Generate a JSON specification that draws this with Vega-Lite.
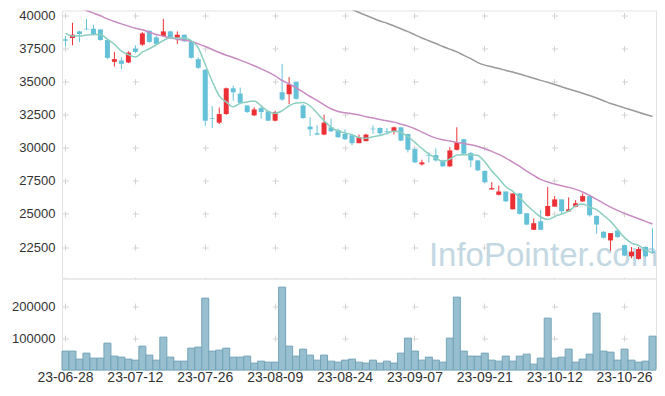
{
  "$schema": "https://vega.github.io/schema/vega-lite/v6.json",
  "padding": {"left": 11, "top": 8.5, "right": 9, "bottom": 5},
  "background": "white",
  "config": {
    "view": {"stroke": "#e3e3e3", "strokeWidth": 1},
    "font": "Liberation Sans",
    "axis": {"labelFont": "Liberation Sans", "labelColor": "#333333", "gridColor": "#d4d4d4", "gridWidth": 1, "labelOverlap": false}
  },
  "data": {"values": [
    {"date": "23-06-28", "open": 38200, "high": 38450, "low": 37700, "close": 38100, "volume": 59300, "ma5": 38650, "ma20": 40900},
    {"date": "23-06-29", "open": 38300, "high": 39450, "low": 37750, "close": 38550, "volume": 59300, "ma5": 38450, "ma20": 40750},
    {"date": "23-06-30", "open": 38800, "high": 38850, "low": 38000, "close": 38600, "volume": 34300, "ma5": 38450, "ma20": 40580},
    {"date": "23-07-03", "open": 39000, "high": 39750, "low": 38900, "close": 38950, "volume": 53000, "ma5": 38520, "ma20": 40380},
    {"date": "23-07-04", "open": 39000, "high": 39300, "low": 38500, "close": 38550, "volume": 37400, "ma5": 38560, "ma20": 40180},
    {"date": "23-07-05", "open": 38950, "high": 38950, "low": 38100, "close": 38150, "volume": 37400, "ma5": 38560, "ma20": 39980},
    {"date": "23-07-06", "open": 38150, "high": 38250, "low": 36700, "close": 36800, "volume": 84300, "ma5": 38210, "ma20": 39750},
    {"date": "23-07-07", "open": 36500, "high": 37250, "low": 36150, "close": 36700, "volume": 43700, "ma5": 37830, "ma20": 39550},
    {"date": "23-07-10", "open": 36600, "high": 36850, "low": 35950, "close": 36350, "volume": 40500, "ma5": 37310, "ma20": 39370},
    {"date": "23-07-11", "open": 36450, "high": 37300, "low": 36400, "close": 37200, "volume": 34300, "ma5": 37040, "ma20": 39200},
    {"date": "23-07-12", "open": 37500, "high": 37750, "low": 37150, "close": 37250, "volume": 31100, "ma5": 36860, "ma20": 39040},
    {"date": "23-07-13", "open": 37800, "high": 38750, "low": 37700, "close": 38650, "volume": 74900, "ma5": 37230, "ma20": 38920},
    {"date": "23-07-14", "open": 38850, "high": 38850, "low": 37950, "close": 38000, "volume": 46800, "ma5": 37490, "ma20": 38740},
    {"date": "23-07-17", "open": 38350, "high": 38500, "low": 37800, "close": 37850, "volume": 31100, "ma5": 37790, "ma20": 38570},
    {"date": "23-07-18", "open": 38450, "high": 39750, "low": 38400, "close": 38800, "volume": 103000, "ma5": 38110, "ma20": 38440},
    {"date": "23-07-19", "open": 38800, "high": 38850, "low": 38250, "close": 38300, "volume": 40500, "ma5": 38320, "ma20": 38310},
    {"date": "23-07-20", "open": 38300, "high": 38800, "low": 37850, "close": 38550, "volume": 28000, "ma5": 38300, "ma20": 38210},
    {"date": "23-07-21", "open": 38550, "high": 38550, "low": 38000, "close": 38050, "volume": 28000, "ma5": 38310, "ma20": 38140},
    {"date": "23-07-24", "open": 38050, "high": 38150, "low": 36750, "close": 36800, "volume": 68600, "ma5": 38100, "ma20": 38040},
    {"date": "23-07-25", "open": 36700, "high": 36850, "low": 35950, "close": 36050, "volume": 71800, "ma5": 37550, "ma20": 37860},
    {"date": "23-07-26", "open": 35900, "high": 35950, "low": 31650, "close": 32050, "volume": 224900, "ma5": 36300, "ma20": 37660},
    {"date": "23-07-27", "open": 32250, "high": 33150, "low": 31500, "close": 32200, "volume": 59300, "ma5": 35030, "ma20": 37430},
    {"date": "23-07-28", "open": 31900, "high": 33050, "low": 31800, "close": 32550, "volume": 62400, "ma5": 33930, "ma20": 37200},
    {"date": "23-07-31", "open": 32550, "high": 34550, "low": 32500, "close": 34500, "volume": 68600, "ma5": 33470, "ma20": 37000},
    {"date": "23-08-01", "open": 34500, "high": 34700, "low": 33550, "close": 34200, "volume": 40500, "ma5": 33100, "ma20": 36830},
    {"date": "23-08-02", "open": 34100, "high": 34550, "low": 33300, "close": 33400, "volume": 40500, "ma5": 33370, "ma20": 36630},
    {"date": "23-08-03", "open": 33200, "high": 33200, "low": 32650, "close": 32700, "volume": 43700, "ma5": 33470, "ma20": 36420},
    {"date": "23-08-04", "open": 32450, "high": 33050, "low": 32400, "close": 32900, "volume": 21800, "ma5": 33540, "ma20": 36200},
    {"date": "23-08-07", "open": 33000, "high": 33200, "low": 32200, "close": 32700, "volume": 28000, "ma5": 33180, "ma20": 35970},
    {"date": "23-08-08", "open": 32750, "high": 32800, "low": 32050, "close": 32050, "volume": 24900, "ma5": 32750, "ma20": 35720},
    {"date": "23-08-09", "open": 32050, "high": 32800, "low": 32000, "close": 32700, "volume": 24900, "ma5": 32610, "ma20": 35440},
    {"date": "23-08-10", "open": 34200, "high": 36350, "low": 33550, "close": 33650, "volume": 259300, "ma5": 32800, "ma20": 35090},
    {"date": "23-08-11", "open": 34050, "high": 35350, "low": 33300, "close": 34800, "volume": 74900, "ma5": 33180, "ma20": 34840},
    {"date": "23-08-14", "open": 35000, "high": 35000, "low": 33650, "close": 33700, "volume": 43700, "ma5": 33380, "ma20": 34540},
    {"date": "23-08-16", "open": 33200, "high": 33300, "low": 32200, "close": 32250, "volume": 65500, "ma5": 33420, "ma20": 34210},
    {"date": "23-08-17", "open": 31600, "high": 32300, "low": 30900, "close": 31400, "volume": 46800, "ma5": 33160, "ma20": 33880},
    {"date": "23-08-18", "open": 31100, "high": 31700, "low": 30950, "close": 31000, "volume": 31100, "ma5": 32630, "ma20": 33580},
    {"date": "23-08-21", "open": 31000, "high": 32500, "low": 30950, "close": 31900, "volume": 46800, "ma5": 32050, "ma20": 33250},
    {"date": "23-08-22", "open": 31550, "high": 32200, "low": 31200, "close": 31250, "volume": 28000, "ma5": 31560, "ma20": 32950},
    {"date": "23-08-23", "open": 31350, "high": 31450, "low": 30750, "close": 30800, "volume": 24900, "ma5": 31270, "ma20": 32750},
    {"date": "23-08-24", "open": 31050, "high": 31400, "low": 30600, "close": 30650, "volume": 31100, "ma5": 31120, "ma20": 32650},
    {"date": "23-08-25", "open": 30950, "high": 31050, "low": 30200, "close": 30350, "volume": 34300, "ma5": 30990, "ma20": 32570, "ma60": 40450},
    {"date": "23-08-28", "open": 30350, "high": 31000, "low": 30350, "close": 30800, "volume": 24900, "ma5": 30770, "ma20": 32480, "ma60": 40230},
    {"date": "23-08-29", "open": 30500, "high": 31050, "low": 30500, "close": 31000, "volume": 21800, "ma5": 30720, "ma20": 32350, "ma60": 40010},
    {"date": "23-08-30", "open": 31450, "high": 31700, "low": 31050, "close": 31400, "volume": 31100, "ma5": 30840, "ma20": 32250, "ma60": 39790},
    {"date": "23-08-31", "open": 31500, "high": 31550, "low": 30950, "close": 31100, "volume": 21800, "ma5": 30930, "ma20": 32140, "ma60": 39580},
    {"date": "23-09-01", "open": 31250, "high": 31500, "low": 31000, "close": 31200, "volume": 28000, "ma5": 31100, "ma20": 32040, "ma60": 39420},
    {"date": "23-09-04", "open": 31200, "high": 31600, "low": 31000, "close": 31550, "volume": 21800, "ma5": 31250, "ma20": 31940, "ma60": 39210},
    {"date": "23-09-05", "open": 31550, "high": 31550, "low": 30500, "close": 30550, "volume": 53000, "ma5": 31160, "ma20": 31790, "ma60": 39000},
    {"date": "23-09-06", "open": 31050, "high": 31050, "low": 29650, "close": 29850, "volume": 99900, "ma5": 30850, "ma20": 31640, "ma60": 38780},
    {"date": "23-09-07", "open": 29900, "high": 29950, "low": 28850, "close": 28900, "volume": 59300, "ma5": 30410, "ma20": 31440, "ma60": 38540},
    {"date": "23-09-08", "open": 28750, "high": 29100, "low": 28650, "close": 28900, "volume": 31100, "ma5": 29950, "ma20": 31190, "ma60": 38300},
    {"date": "23-09-11", "open": 29450, "high": 29650, "low": 28900, "close": 29400, "volume": 40500, "ma5": 29520, "ma20": 30940, "ma60": 38090},
    {"date": "23-09-12", "open": 29450, "high": 29950, "low": 28950, "close": 29050, "volume": 31100, "ma5": 29220, "ma20": 30730, "ma60": 37880},
    {"date": "23-09-13", "open": 29050, "high": 29100, "low": 28550, "close": 28600, "volume": 24900, "ma5": 28970, "ma20": 30610, "ma60": 37660},
    {"date": "23-09-14", "open": 28600, "high": 30050, "low": 28550, "close": 29800, "volume": 99900, "ma5": 29150, "ma20": 30510, "ma60": 37460},
    {"date": "23-09-15", "open": 29850, "high": 31550, "low": 29800, "close": 30400, "volume": 228000, "ma5": 29450, "ma20": 30410, "ma60": 37250},
    {"date": "23-09-18", "open": 30650, "high": 30650, "low": 29500, "close": 29550, "volume": 59300, "ma5": 29480, "ma20": 30330, "ma60": 36990},
    {"date": "23-09-19", "open": 29600, "high": 29700, "low": 28550, "close": 29050, "volume": 43700, "ma5": 29480, "ma20": 30230, "ma60": 36740},
    {"date": "23-09-20", "open": 29050, "high": 29050, "low": 28250, "close": 28300, "volume": 43700, "ma5": 29420, "ma20": 30100, "ma60": 36440},
    {"date": "23-09-21", "open": 28250, "high": 28300, "low": 27350, "close": 27400, "volume": 53000, "ma5": 28940, "ma20": 29930, "ma60": 36250},
    {"date": "23-09-22", "open": 26850, "high": 27400, "low": 26850, "close": 26950, "volume": 31100, "ma5": 28250, "ma20": 29730, "ma60": 36120},
    {"date": "23-09-25", "open": 26450, "high": 27150, "low": 26400, "close": 26700, "volume": 28000, "ma5": 27680, "ma20": 29500, "ma60": 35990},
    {"date": "23-09-26", "open": 26700, "high": 26700, "low": 25900, "close": 25950, "volume": 43700, "ma5": 27060, "ma20": 29220, "ma60": 35850},
    {"date": "23-09-27", "open": 25350, "high": 26550, "low": 25350, "close": 26550, "volume": 28000, "ma5": 26710, "ma20": 28920, "ma60": 35730},
    {"date": "23-10-04", "open": 26550, "high": 26550, "low": 24950, "close": 25000, "volume": 43700, "ma5": 26230, "ma20": 28590, "ma60": 35580},
    {"date": "23-10-05", "open": 25050, "high": 25050, "low": 24150, "close": 24200, "volume": 49900, "ma5": 25680, "ma20": 28240, "ma60": 35420},
    {"date": "23-10-06", "open": 23800, "high": 24650, "low": 23800, "close": 24300, "volume": 18600, "ma5": 25200, "ma20": 27910, "ma60": 35260},
    {"date": "23-10-10", "open": 24450, "high": 25300, "low": 23800, "close": 23800, "volume": 37400, "ma5": 24770, "ma20": 27610, "ma60": 35100},
    {"date": "23-10-11", "open": 24850, "high": 27050, "low": 24800, "close": 25600, "volume": 162400, "ma5": 24580, "ma20": 27410, "ma60": 34950},
    {"date": "23-10-12", "open": 25550, "high": 26350, "low": 25550, "close": 26100, "volume": 37400, "ma5": 24800, "ma20": 27260, "ma60": 34790},
    {"date": "23-10-13", "open": 26100, "high": 26100, "low": 25000, "close": 25200, "volume": 40500, "ma5": 25000, "ma20": 27130, "ma60": 34620},
    {"date": "23-10-16", "open": 25200, "high": 26250, "low": 25150, "close": 25350, "volume": 65500, "ma5": 25210, "ma20": 27010, "ma60": 34440},
    {"date": "23-10-17", "open": 25550, "high": 26050, "low": 25500, "close": 25800, "volume": 24900, "ma5": 25610, "ma20": 26860, "ma60": 34290},
    {"date": "23-10-18", "open": 25950, "high": 26550, "low": 25900, "close": 26350, "volume": 34300, "ma5": 25760, "ma20": 26660, "ma60": 34130},
    {"date": "23-10-19", "open": 26350, "high": 26400, "low": 24800, "close": 24900, "volume": 49900, "ma5": 25520, "ma20": 26400, "ma60": 33950},
    {"date": "23-10-20", "open": 24850, "high": 24900, "low": 23500, "close": 24200, "volume": 178000, "ma5": 25320, "ma20": 26100, "ma60": 33760},
    {"date": "23-10-23", "open": 23650, "high": 23700, "low": 23150, "close": 23200, "volume": 59300, "ma5": 24890, "ma20": 25800, "ma60": 33560},
    {"date": "23-10-24", "open": 23000, "high": 23550, "low": 22200, "close": 23550, "volume": 56100, "ma5": 24440, "ma20": 25520, "ma60": 33350},
    {"date": "23-10-25", "open": 23750, "high": 23850, "low": 23200, "close": 23250, "volume": 31100, "ma5": 23820, "ma20": 25270, "ma60": 33190},
    {"date": "23-10-26", "open": 22650, "high": 22650, "low": 21800, "close": 21850, "volume": 65500, "ma5": 23210, "ma20": 25040, "ma60": 33020},
    {"date": "23-10-27", "open": 21800, "high": 22500, "low": 21650, "close": 22150, "volume": 31100, "ma5": 22800, "ma20": 24840, "ma60": 32860},
    {"date": "23-10-30", "open": 21600, "high": 22500, "low": 21550, "close": 22350, "volume": 24900, "ma5": 22630, "ma20": 24640, "ma60": 32690},
    {"date": "23-10-31", "open": 22500, "high": 22550, "low": 21750, "close": 21800, "volume": 28000, "ma5": 22280, "ma20": 24440, "ma60": 32520},
    {"date": "23-11-01", "open": 22150, "high": 23900, "low": 22000, "close": 22050, "volume": 106100, "ma5": 22040, "ma20": 24240, "ma60": 32370}
  ]},
  "spacing": 0,
  "bounds": "flush",
  "vconcat": [
    {
      "width": 594,
      "height": 268,
      "encoding": {
        "x": {
          "field": "date", "type": "ordinal", "title": null,
          "scale": {"paddingInner": 0, "paddingOuter": 0},
          "axis": {
            "values": ["23-06-28", "23-07-12", "23-07-26", "23-08-09", "23-08-24", "23-09-07", "23-09-21", "23-10-12", "23-10-26"],
            "bandPosition": 0.5, "labels": false, "ticks": false, "domain": false, "title": null,
            "grid": true, "gridDash": [6, 27.07], "gridDashOffset": 31.04
          }
        }
      },
      "layer": [
        {
          "data": {"values": [{"label": "InfoPointer.com"}]},
          "mark": {"type": "text", "align": "left", "baseline": "alphabetic", "fontSize": 33, "font": "Liberation Sans", "color": "#c4d8e3", "clip": true},
          "encoding": {
            "x": {"datum": "23-09-11", "type": "ordinal"},
            "y": {"datum": 21050, "type": "quantitative", "title": null},
            "text": {"field": "label"}
          }
        },
        {
          "mark": {"type": "rule", "strokeWidth": 1},
          "encoding": {
            "y": {
              "field": "low", "type": "quantitative", "title": null,
              "scale": {"domain": [20120, 40380], "zero": false, "nice": false},
              "axis": {
                "values": [22500, 25000, 27500, 30000, 32500, 35000, 37500, 40000], "tickCount": 12,
                "format": "d", "labelFontSize": 13, "labelPadding": 7, "labelOverlap": false, "ticks": false, "domain": false, "title": null,
                "grid": true, "gridDash": [6, 63.88], "gridDashOffset": 69.39
              }
            },
            "y2": {"field": "high"},
            "color": {"condition": {"test": "datum.close > datum.open", "value": "#ec3136"}, "value": "#65c1d8"}
          }
        },
        {
          "mark": {"type": "bar", "size": 5},
          "encoding": {
            "y": {"field": "open", "type": "quantitative", "title": null},
            "y2": {"field": "close"},
            "color": {"condition": {"test": "datum.close > datum.open", "value": "#ec3136"}, "value": "#65c1d8"}
          }
        },
        {
          "mark": {"type": "line", "interpolate": "monotone", "stroke": "#9a9a9a", "strokeWidth": 1.5, "clip": true},
          "encoding": {"y": {"field": "ma60", "type": "quantitative", "title": null}}
        },
        {
          "mark": {"type": "line", "interpolate": "monotone", "stroke": "#c98bc2", "strokeWidth": 1.5, "clip": true},
          "encoding": {"y": {"field": "ma20", "type": "quantitative", "title": null}}
        },
        {
          "mark": {"type": "line", "interpolate": "monotone", "stroke": "#8ccfc1", "strokeWidth": 1.5, "clip": true},
          "encoding": {"y": {"field": "ma5", "type": "quantitative", "title": null}}
        }
      ]
    },
    {
      "width": 594,
      "height": 89,
      "mark": {"type": "bar", "fill": "#97bfd0", "stroke": "#74a3b8", "strokeWidth": 1},
      "encoding": {
        "x": {
          "field": "date", "type": "ordinal", "title": null,
          "scale": {"paddingInner": 0, "paddingOuter": 0},
          "axis": {
            "values": ["23-06-28", "23-07-12", "23-07-26", "23-08-09", "23-08-24", "23-09-07", "23-09-21", "23-10-12", "23-10-26"],
            "bandPosition": 0.5, "labelAngle": 0, "labelFontSize": 14, "labelPadding": 0, "labelOverlap": false,
            "ticks": true, "tickSize": 3, "tickColor": "#d4d4d4", "domain": false, "title": null,
            "grid": true, "gridDash": [6, 25.99], "gridDashOffset": 7.38
          }
        },
        "y": {
          "field": "volume", "type": "quantitative", "title": null,
          "scale": {"domain": [8100, 286300], "zero": false, "nice": false},
          "axis": {
            "values": [100000, 200000], "tickCount": 5, "format": "d", "labelFontSize": 13, "labelPadding": 7, "labelOverlap": false,
            "ticks": false, "domain": false, "title": null,
            "grid": true, "gridDash": [6, 63.88], "gridDashOffset": 69.39
          }
        }
      }
    }
  ]
}
